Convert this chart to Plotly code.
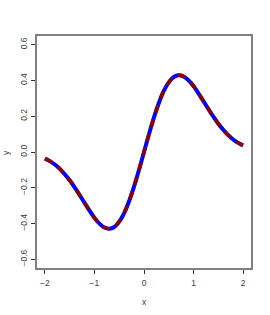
import plotly.graph_objects as go

x_vals = [-2.0, -1.9, -1.8, -1.7, -1.6, -1.5, -1.4, -1.3, -1.2, -1.1, -1.0,
          -0.9, -0.8, -0.7, -0.6, -0.5, -0.4, -0.3, -0.2, -0.1, 0.0,
          0.1, 0.2, 0.3, 0.4, 0.5, 0.6, 0.7, 0.8, 0.9, 1.0,
          1.1, 1.2, 1.3, 1.4, 1.5, 1.6, 1.7, 1.8, 1.9, 2.0]
y_vals = [-0.037, -0.051, -0.070, -0.094, -0.124, -0.158, -0.197, -0.240, -0.284, -0.328, -0.368,
          -0.400, -0.422, -0.429, -0.419, -0.389, -0.341, -0.274, -0.192, -0.099, 0.000,
          0.099, 0.192, 0.274, 0.341, 0.389, 0.419, 0.429, 0.422, 0.400, 0.368,
          0.328, 0.284, 0.240, 0.197, 0.158, 0.124, 0.094, 0.070, 0.051, 0.037]
x_ticks = [-2, -1, 0, 1, 2]
y_ticks = [-0.6, -0.4, -0.2, 0.0, 0.2, 0.4, 0.6]
y_tick_labels = ["\u22120.6", "\u22120.4", "\u22120.2", "0.0", "0.2", "0.4", "0.6"]
x_tick_labels = ["\u22122", "\u22121", "0", "1", "2"]

fig = go.Figure()
fig.add_trace(go.Scatter(x=x_vals, y=y_vals, mode="lines",
                         line=dict(color="#0000FF", width=4, shape="spline"),
                         showlegend=False, hoverinfo="skip"))
fig.add_trace(go.Scatter(x=x_vals, y=y_vals, mode="lines",
                         line=dict(color="#8B0000", width=3.5, dash="8px,7px", shape="spline"),
                         showlegend=False, hoverinfo="skip"))

font = dict(family="Liberation Sans, Arial, sans-serif", size=8.5, color="#3a3a3a")
fig.update_layout(
    width=270, height=315,
    margin=dict(l=37, r=19, t=36, b=47),
    paper_bgcolor="white", plot_bgcolor="white",
    font=font,
    xaxis=dict(range=[-2.16, 2.16], tickvals=x_ticks, ticktext=x_tick_labels,
               showgrid=False, zeroline=False, showline=True, linecolor="#808080",
               linewidth=1.5, mirror=True, ticks="outside", ticklen=4,
               tickcolor="#333", tickwidth=1, ticklabelstandoff=2),
    yaxis=dict(range=[-0.648, 0.648], tickvals=y_ticks, ticktext=y_tick_labels,
               showgrid=False, zeroline=False, showline=True, linecolor="#808080",
               linewidth=1.5, mirror=True, ticks="outside", ticklen=4,
               tickcolor="#333", tickwidth=1, tickangle=-90, ticklabelstandoff=1),
    annotations=[
        dict(text="x", xref="paper", yref="paper", x=0.5, y=-0.1466,
             showarrow=False, font=font, xanchor="center", yanchor="middle"),
        dict(text="y", xref="paper", yref="paper", x=-0.145, y=0.5,
             showarrow=False, font=font, textangle=-90,
             xanchor="center", yanchor="middle"),
    ],
)
fig.write_html("out.html", config={"displayModeBar": False},
               post_script="document.body.style.margin='0';")
